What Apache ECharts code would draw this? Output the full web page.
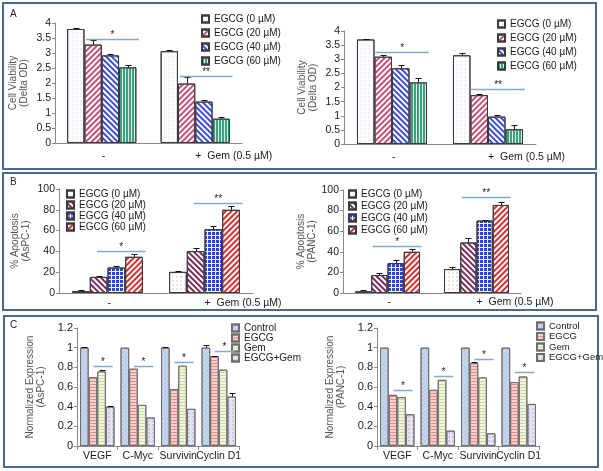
<!DOCTYPE html>
<html><head><meta charset="utf-8">
<script src="https://cdn.jsdelivr.net/npm/echarts@6/dist/echarts.min.js"></script>
<style>html,body{margin:0;padding:0;background:#fff}#c{width:603px;height:471px}</style>
</head><body><div id="c"></div>
<script>
// ---------------- data ----------------
const groupLabels = ['-', '+  Gem (0.5 µM)'];
const doseNames = ['EGCG (0 µM)', 'EGCG (20 µM)', 'EGCG (40 µM)', 'EGCG (60 µM)'];
const geneLabels = ['VEGF', 'C-Myc', 'Survivin', 'Cyclin D1'];
const treatNames = ['Control', 'EGCG', 'Gem', 'EGCG+Gem'];

const viabilityTicks = [0, 0.5, 1, 1.5, 2, 2.5, 3, 3.5, 4];
const apoptosisTicks = [0, 20, 40, 60, 80, 100];
const expressionTicks = [0, 0.2, 0.4, 0.6, 0.8, 1, 1.2];

// rows = dose / treatment series, columns = categories
const aspcViability = [[3.80, 3.06], [3.28, 1.98], [2.92, 1.38], [2.52, 0.81]];
const aspcViabilityErr = [[0.02, 0.05], [0.14, 0.22], [0.06, 0.06], [0.08, 0.05]];
const panc1Viability = [[3.70, 3.14], [3.09, 1.73], [2.68, 0.97], [2.18, 0.52]];
const panc1ViabilityErr = [[0.03, 0.07], [0.07, 0.04], [0.12, 0.07], [0.17, 0.14]];
const aspcApoptosis = [[1.9, 20.3], [15.5, 40.3], [24.5, 61.3], [34.8, 80.0]];
const aspcApoptosisErr = [[0.6, 1.3], [1.3, 2.6], [1.3, 3.2], [2.3, 3.9]];
const panc1Apoptosis = [[1.6, 23.2], [17.4, 49.0], [29.0, 70.3], [40.0, 85.5]];
const panc1ApoptosisErr = [[1.0, 1.6], [1.6, 4.2], [3.3, 1.0], [2.6, 3.2]];
const aspcExpression = [[1.0, 1.0, 1.0, 1.0], [0.70, 0.786, 0.578, 0.912], [0.758, 0.418, 0.816, 0.776], [0.40, 0.289, 0.378, 0.503]];
const aspcExpressionErr = [[0.01, 0, 0.01, 0.025], [0, 0, 0, 0.008], [0.015, 0, 0, 0], [0.01, 0, 0, 0.035]];
const panc1Expression = [[1.0, 1.0, 1.0, 1.0], [0.52, 0.571, 0.843, 0.65], [0.497, 0.673, 0.697, 0.707], [0.323, 0.156, 0.129, 0.428]];
const panc1ExpressionErr = [[0, 0, 0, 0], [0, 0, 0.012, 0], [0, 0, 0, 0], [0, 0, 0, 0]];

// significance bar levels (one per category) and marks
const aspcViabilitySig = [3.46, 2.25];
const panc1ViabilitySig = [3.27, 1.94];
const aspcApoptosisSig = [40.3, 86.5];
const panc1ApoptosisSig = [45.8, 92.9];
const aspcExpressionSig = [0.809, 0.809, 0.85, 0.962];
const panc1ExpressionSig = [0.571, 0.707, 0.884, 0.748];
const sigMarksAB = ['*', '**'];
const sigMarksC = ['*', '*', '*', '*'];

// ---------------- styles ----------------
const FONT = 'Liberation Sans, Arial, sans-serif';
const dots = (c) => ({ symbol: 'circle', symbolSize: 0.7, color: c, dashArrayX: [2, 2], dashArrayY: [2, 2] });
const stripes = (c, w, g, rot) => ({ symbol: 'rect', symbolSize: 1, color: c, dashArrayX: [1, 0], dashArrayY: [w, g], rotation: rot });
const vstripes = (c, w, g) => ({ symbol: 'rect', symbolSize: 1, color: c, dashArrayX: [w, g], dashArrayY: [1, 0] });
const grid4 = (c) => ({ symbol: 'rect', symbolSize: 1, color: c, dashArrayX: [3, 1], dashArrayY: [3, 1] });

const stylesA = [
  { color: '#fdfdff', decal: dots('#dadae8') },
  { color: '#ffffff', decal: stripes('#c4507c', 2, 2, -Math.PI / 4) },
  { color: '#ffffff', decal: stripes('#3b4fd0', 2, 2, Math.PI / 4) },
  { color: '#d2efe3', decal: vstripes('#3fa27f', 2, 1) }
];
const stylesB = [
  { color: '#ffffff', decal: dots('#b8b8c8') },
  { color: '#ffffff', decal: stripes('#7a2b60', 2, 2, Math.PI / 4) },
  { color: '#ffffff', decal: grid4('#2a44d6') },
  { color: '#ffffff', decal: stripes('#d8302e', 2, 2, -Math.PI / 4) }
];
const stylesC = [
  { color: '#c9d8ee', decal: stripes('#b0c3df', 1, 2, -Math.PI / 4) },
  { color: '#f7d0cf', decal: stripes('#e48c8a', 1, 2, 0) },
  { color: '#f3f6e2', decal: stripes('#c9d69c', 1, 2, 0) },
  { color: '#e8e1f1', decal: dots('#a596c6') }
];

const option = {
  backgroundColor: '#ffffff',
  animation: false,
  textStyle: { fontFamily: FONT },
  grid: [], xAxis: [], yAxis: [], series: [], legend: [],
  graphic: [
    { type: 'rect', shape: { x: 3, y: 3, width: 593, height: 166 }, style: { fill: 'none', stroke: '#4a6a94', lineWidth: 2 } },
    { type: 'rect', shape: { x: 3, y: 173, width: 593, height: 137 }, style: { fill: 'none', stroke: '#4a6a94', lineWidth: 2 } },
    { type: 'rect', shape: { x: 4, y: 316, width: 594, height: 151 }, style: { fill: 'none', stroke: '#4a6a94', lineWidth: 2 } },
    { type: 'text', left: 10, top: 9, style: { text: 'A', fontSize: 10, fill: '#222', fontFamily: FONT } },
    { type: 'text', left: 10, top: 177, style: { text: 'B', fontSize: 10, fill: '#222', fontFamily: FONT } },
    { type: 'text', left: 10, top: 320, style: { text: 'C', fontSize: 10, fill: '#222', fontFamily: FONT } }
  ]
};

function addPanel(p) {
  const gi = option.grid.length;
  const gapFrac = parseFloat(p.catGap) / 100;
  option.grid.push({ left: p.left, top: p.top, width: p.width, height: p.height });
  option.xAxis.push({
    type: 'category', gridIndex: gi, data: p.cats,
    axisLine: { lineStyle: { color: '#8a8a8a' } },
    axisTick: { show: p.xTicks, length: 4, lineStyle: { color: '#8a8a8a' } },
    axisLabel: { interval: 0, align: p.labelAlign, fontSize: p.catFont, color: '#1a1a1a', margin: p.labelMargin, fontFamily: FONT }
  });
  const t = p.ticks;
  option.yAxis.push({
    type: 'value', gridIndex: gi, min: t[0], max: t[t.length - 1], interval: t[1] - t[0],
    name: p.yName, nameLocation: 'middle', nameGap: p.nameGap,
    nameTextStyle: { fontSize: 10, color: '#555', lineHeight: 11, fontFamily: FONT },
    axisLine: { show: true, lineStyle: { color: '#8a8a8a' } },
    axisTick: { show: true, length: 3, lineStyle: { color: '#8a8a8a' } },
    splitLine: { show: false },
    axisLabel: { fontSize: p.tickFont, color: '#1a1a1a', margin: 4, fontFamily: FONT }
  });
  p.names.forEach((nm, i) => {
    option.series.push({
      type: 'bar', name: p.key + '|' + nm, xAxisIndex: gi, yAxisIndex: gi,
      data: p.values[i], barGap: '0%', barCategoryGap: p.catGap, silent: true,
      itemStyle: { color: p.styles[i].color, borderColor: p.border, borderWidth: 1, decal: p.styles[i].decal }
    });
  });
  const errData = [];
  p.values.forEach((row, i) => row.forEach((v, j) => { if (p.errors[i][j] > 0) errData.push([j, i, v, p.errors[i][j]]); }));
  option.series.push({
    type: 'custom', xAxisIndex: gi, yAxisIndex: gi, data: errData, encode: { x: 0, y: 2 }, silent: true, z: 5,
    renderItem: (params, api) => {
      const band = api.size([1, 0])[0];
      const bw = band * (1 - gapFrac) / 4;
      const cat = api.value(0), slot = api.value(1), v = api.value(2), e = api.value(3);
      const b = api.coord([cat, v]), tp = api.coord([cat, v + e]);
      const x = Math.round(b[0] + (slot - 1.5) * bw) + 0.5;
      const ty = Math.round(tp[1]) + 0.5;
      return { type: 'group', children: [
        { type: 'line', shape: { x1: x, y1: b[1], x2: x, y2: ty }, style: { stroke: '#111', lineWidth: 1 } },
        { type: 'line', shape: { x1: x - p.cap, y1: ty, x2: x + p.cap, y2: ty }, style: { stroke: '#111', lineWidth: 1 } }
      ] };
    }
  });
  const sigData = p.sig.map((y, j) => [j, y, j]);
  option.series.push({
    type: 'custom', xAxisIndex: gi, yAxisIndex: gi, data: sigData, encode: { x: 0, y: 1 }, silent: true, z: 6,
    renderItem: (params, api) => {
      const band = api.size([1, 0])[0];
      const bw = band * (1 - gapFrac) / 4;
      const c = api.coord([api.value(0), api.value(1)]);
      const x1 = c[0] + p.sigFrom * bw, x2 = c[0] + p.sigTo * bw;
      const y = Math.round(c[1]) + 0.5;
      return { type: 'group', children: [
        { type: 'line', shape: { x1: x1, y1: y, x2: x2, y2: y }, style: { stroke: '#86a6d0', lineWidth: 1.5 } },
        { type: 'text', style: { text: p.marks[api.value(2)], x: (x1 + x2) / 2, y: y + p.starDy, textAlign: 'center', textVerticalAlign: 'bottom', fontSize: 10, fill: '#222', fontFamily: FONT } }
      ] };
    }
  });
  option.legend.push({
    orient: 'vertical', left: p.legLeft, top: p.legTop, itemWidth: 7, itemHeight: 7, itemGap: p.legGap,
    icon: 'rect', padding: 0, selectedMode: false,
    data: p.names.map(n => p.key + '|' + n),
    formatter: n => n.split('|')[1],
    textStyle: { fontSize: p.legFont, color: '#1a1a1a', fontFamily: FONT }
  });
}

addPanel({ key: 'A1', left: 55, top: 23, width: 187, height: 120, cats: groupLabels, ticks: viabilityTicks,
  names: doseNames, values: aspcViability, errors: aspcViabilityErr, sig: aspcViabilitySig, marks: sigMarksAB,
  styles: stylesA, border: '#3a3a3a', catGap: '26%', xTicks: false, labelAlign: 'left', catFont: 10.5, labelMargin: 8,
  tickFont: 10.5, yName: 'Cell Viability\n(Delta OD)', nameGap: 25, cap: 3, sigFrom: -0.9, sigTo: 2.15, starDy: 1,
  legLeft: 201, legTop: 14, legGap: 4, legFont: 10 });
addPanel({ key: 'A2', left: 344, top: 31, width: 192, height: 113, cats: groupLabels, ticks: viabilityTicks,
  names: doseNames, values: panc1Viability, errors: panc1ViabilityErr, sig: panc1ViabilitySig, marks: sigMarksAB,
  styles: stylesA, border: '#3a3a3a', catGap: '27%', xTicks: false, labelAlign: 'left', catFont: 10.5, labelMargin: 8,
  tickFont: 10.5, yName: 'Cell Viability\n(Delta OD)', nameGap: 25, cap: 3, sigFrom: -0.95, sigTo: 2.1, starDy: 1,
  legLeft: 497, legTop: 19, legGap: 4, legFont: 10 });
addPanel({ key: 'B1', left: 59, top: 189, width: 194, height: 104, cats: groupLabels, ticks: apoptosisTicks,
  names: doseNames, values: aspcApoptosis, errors: aspcApoptosisErr, sig: aspcApoptosisSig, marks: sigMarksAB,
  styles: stylesB, border: '#3a3a3a', catGap: '27%', xTicks: false, labelAlign: 'left', catFont: 10.5, labelMargin: 5,
  tickFont: 10.5, yName: '% Apoptosis\n(AsPC-1)', nameGap: 27, cap: 3, sigFrom: -0.6, sigTo: 2.15, starDy: 1,
  legLeft: 66, legTop: 189, legGap: 1, legFont: 10 });
addPanel({ key: 'B2', left: 343, top: 190, width: 178, height: 103, cats: groupLabels, ticks: apoptosisTicks,
  names: doseNames, values: panc1Apoptosis, errors: panc1ApoptosisErr, sig: panc1ApoptosisSig, marks: sigMarksAB,
  styles: stylesB, border: '#3a3a3a', catGap: '27%', xTicks: false, labelAlign: 'left', catFont: 10.5, labelMargin: 4,
  tickFont: 10.5, yName: '% Apoptosis\n(PANC-1)', nameGap: 25, cap: 3, sigFrom: -0.9, sigTo: 2.1, starDy: 1,
  legLeft: 348, legTop: 189, legGap: 2, legFont: 10 });
addPanel({ key: 'C1', left: 77, top: 328, width: 162, height: 118, cats: geneLabels, ticks: expressionTicks,
  names: treatNames, values: aspcExpression, errors: aspcExpressionErr, sig: aspcExpressionSig, marks: sigMarksC,
  styles: stylesC, border: '#6e6e6e', catGap: '15%', xTicks: true, labelAlign: 'center', catFont: 10.5, labelMargin: 5,
  tickFont: 11, yName: 'Normalized Expression\n(AsPC-1)', nameGap: 30, cap: 3, sigFrom: -0.45, sigTo: 1.8, starDy: 1,
  legLeft: 231, legTop: 323, legGap: 0, legFont: 10 });
addPanel({ key: 'C2', left: 377, top: 328, width: 162, height: 118, cats: geneLabels, ticks: expressionTicks,
  names: treatNames, values: panc1Expression, errors: panc1ExpressionErr, sig: panc1ExpressionSig, marks: sigMarksC,
  styles: stylesC, border: '#6e6e6e', catGap: '15%', xTicks: true, labelAlign: 'center', catFont: 10.5, labelMargin: 5,
  tickFont: 11, yName: 'Normalized Expression\n(PANC-1)', nameGap: 30, cap: 3, sigFrom: -0.45, sigTo: 1.8, starDy: 1,
  legLeft: 536, legTop: 321, legGap: 0.5, legFont: 9.5 });

const chart = echarts.init(document.getElementById('c'), null, { renderer: 'canvas' });
chart.setOption(option);
</script>
</body></html>
